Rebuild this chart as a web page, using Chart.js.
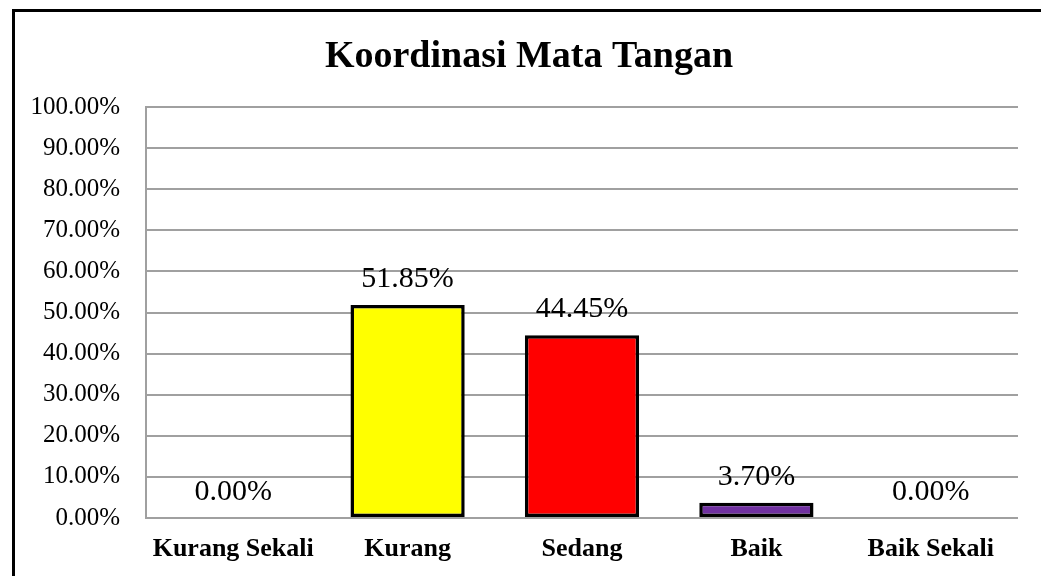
<!DOCTYPE html>
<html>
<head>
<meta charset="utf-8">
<script src="https://cdn.jsdelivr.net/npm/chart.js@4.4.1/dist/chart.umd.min.js"></script>
<style>
html,body{margin:0;padding:0;background:#fff;}
#wrap{width:1041px;height:576px;}
</style>
</head>
<body>
<div id="wrap"><canvas id="c" width="1041" height="576"></canvas></div>
<script>
const chartTitle = 'Koordinasi Mata Tangan';
const categories = ['Kurang Sekali', 'Kurang', 'Sedang', 'Baik', 'Baik Sekali'];
const percentages = [0.00, 51.85, 44.45, 3.70, 0.00];
const barColors = ['#FFFF00', '#FFFF00', '#FF0000', '#7030A0', '#7030A0'];
const yMin = 0, yMax = 100, yStep = 10;

const SERIF = "'Times New Roman', 'Liberation Serif', serif";

const frame = {
  id: 'frame',
  beforeDraw(chart) {
    const ctx = chart.ctx;
    ctx.save();
    ctx.fillStyle = '#fff';
    ctx.fillRect(0, 0, chart.width, chart.height);
    ctx.fillStyle = '#000';
    ctx.fillRect(12, 9, 3, chart.height - 9);
    ctx.fillRect(12, 9, chart.width - 12, 3);
    ctx.restore();
  }
};

const headline = {
  id: 'headline',
  afterDraw(chart) {
    const ctx = chart.ctx;
    ctx.save();
    ctx.font = 'bold 38px ' + SERIF;
    ctx.fillStyle = '#000';
    ctx.textAlign = 'center';
    ctx.textBaseline = 'alphabetic';
    ctx.fillText(chartTitle, 529, 67);
    ctx.restore();
  }
};

const dataLabels = {
  id: 'dataLabels',
  afterDatasetsDraw(chart) {
    const ctx = chart.ctx;
    const meta = chart.getDatasetMeta(0);
    ctx.save();
    ctx.font = '30px ' + SERIF;
    ctx.fillStyle = '#000';
    ctx.textAlign = 'center';
    ctx.textBaseline = 'alphabetic';
    meta.data.forEach((bar, i) => {
      const v = chart.data.datasets[0].data[i];
      ctx.fillText(v.toFixed(2) + '%', bar.x, bar.y - 18);
    });
    ctx.restore();
  }
};

new Chart(document.getElementById('c'), {
  type: 'bar',
  data: {
    labels: categories,
    datasets: [{
      data: percentages,
      backgroundColor: barColors,
      borderColor: '#000',
      borderWidth: 3.5,
      borderSkipped: false,
      categoryPercentage: 1,
      barPercentage: 0.655
    }]
  },
  options: {
    responsive: false,
    animation: false,
    layout: { padding: { left: 15, right: 23, top: 107, bottom: 0 } },
    plugins: {
      legend: { display: false },
      tooltip: { enabled: false },
      title: { display: false }
    },
    scales: {
      x: {
        grid: { display: false, drawTicks: false },
        border: { display: false },
        ticks: {
          color: '#000',
          font: { family: SERIF, size: 26, weight: 'bold' },
          padding: 16,
          maxRotation: 0,
          autoSkip: false
        },
        afterFit(scale) { scale.height = 58; }
      },
      y: {
        min: yMin,
        max: yMax,
        grid: { color: '#a0a0a0', lineWidth: 2, drawTicks: false },
        border: { display: true, color: '#a0a0a0', width: 2 },
        ticks: {
          stepSize: yStep,
          color: '#000',
          font: { family: SERIF, size: 25 },
          padding: 26,
          callback: (v) => Number(v).toFixed(2) + '%'
        },
        afterFit(scale) { scale.width = 131; }
      }
    }
  },
  plugins: [frame, headline, dataLabels]
});
</script>
</body>
</html>
